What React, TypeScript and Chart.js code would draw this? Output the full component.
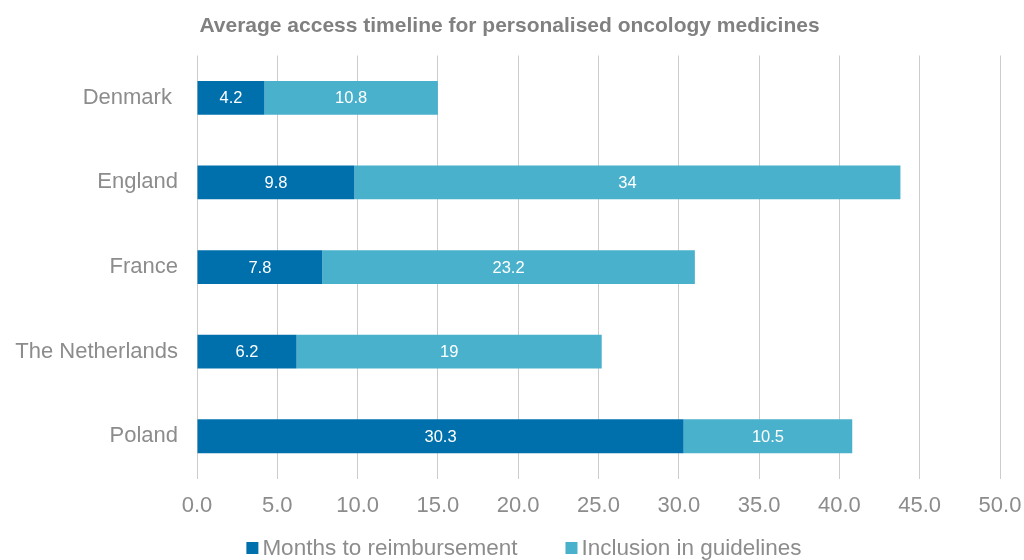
import React, { useEffect, useRef } from "react";
import { Chart, registerables } from "chart.js";

Chart.register(...registerables);

const categories = ["Denmark ", "England", "France", "The Netherlands", "Poland"];
const monthsToReimbursement = [4.2, 9.8, 7.8, 6.2, 30.3];
const inclusionInGuidelines = [10.8, 34, 23.2, 19, 10.5];
const seriesNames = ["Months to reimbursement", "Inclusion in guidelines"];
const seriesColors = ["#0070AC", "#4AB1CC"];
const titleText = "Average access timeline for personalised oncology medicines";

const FONT = "'Liberation Sans', Arial, sans-serif";

const barLabels = {
  id: "barLabels",
  afterDatasetsDraw(chart: any) {
    const ctx = chart.ctx;
    ctx.save();
    ctx.fillStyle = "#ffffff";
    ctx.font = `16.5px ${FONT}`;
    ctx.textAlign = "center";
    ctx.textBaseline = "middle";
    chart.data.datasets.forEach((ds: any, di: number) => {
      const meta = chart.getDatasetMeta(di);
      meta.data.forEach((el: any, i: number) => {
        const v = ds.data[i];
        const cx = (el.x + el.base) / 2;
        ctx.fillText(String(v), cx, el.y + 1);
      });
    });
    ctx.restore();
  },
};

const titleAndLegend = {
  id: "titleAndLegend",
  afterDraw(chart: any) {
    const ctx = chart.ctx;
    ctx.save();
    // title
    ctx.font = `bold 21px ${FONT}`;
    ctx.fillStyle = "#808080";
    ctx.textAlign = "center";
    ctx.textBaseline = "middle";
    ctx.fillText(titleText, 509.5, 26);
    // legend
    ctx.font = `22.5px ${FONT}`;
    ctx.textAlign = "left";
    const box = 12;
    const gapBoxText = 4;
    const gapItems = 48;
    const items = chart.data.datasets.map((ds: any) => ({
      label: ds.label,
      color: ds.backgroundColor,
      w: ctx.measureText(ds.label).width,
    }));
    const total =
      items.reduce((a: number, it: any) => a + box + gapBoxText + it.w, 0) +
      gapItems * (items.length - 1);
    let x = (chart.width - total) / 2 + 12;
    const y = 549;
    items.forEach((it: any) => {
      ctx.fillStyle = it.color;
      ctx.fillRect(x, y - box / 2 - 1, box, box);
      x += box + gapBoxText;
      ctx.fillStyle = "#8c8c8c";
      ctx.fillText(it.label, x, y);
      x += it.w + gapItems;
    });
    ctx.restore();
  },
};

export default function App() {
  const ref = useRef<HTMLCanvasElement>(null);
  useEffect(() => {
    document.body.style.margin = "0";
    const chart = new Chart(ref.current!, {
      type: "bar",
      data: {
        labels: categories,
        datasets: [
          {
            label: seriesNames[0],
            data: monthsToReimbursement,
            backgroundColor: seriesColors[0],
            categoryPercentage: 1,
            barPercentage: 0.4,
          },
          {
            label: seriesNames[1],
            data: inclusionInGuidelines,
            backgroundColor: seriesColors[1],
            categoryPercentage: 1,
            barPercentage: 0.4,
          },
        ],
      },
      options: {
        indexAxis: "y",
        animation: false,
        responsive: false,
        layout: { padding: { left: 0, right: 24, top: 55.5, bottom: 27 } },
        scales: {
          x: {
            stacked: true,
            min: 0,
            max: 50,
            ticks: {
              stepSize: 5,
              color: "#8c8c8c",
              font: { family: FONT, size: 22 },
              padding: 14,
              maxRotation: 0,
              autoSkip: false,
              callback: (v: any) => Number(v).toFixed(1),
            },
            grid: { color: "#cccccc", drawTicks: false, lineWidth: 1 },
            border: { display: false },
            afterFit: (s: any) => {
              s.paddingRight = 0;
              s.paddingLeft = 0;
            },
          },
          y: {
            stacked: true,
            ticks: {
              color: "#8c8c8c",
              font: { family: FONT, size: 22 },
              padding: 19,
            },
            grid: { display: false, drawTicks: false },
            border: { display: false },
            afterFit: (s: any) => {
              s.width = 197;
            },
          },
        },
        plugins: {
          title: { display: false },
          legend: { display: false },
          tooltip: { enabled: false },
        },
      },
      plugins: [barLabels, titleAndLegend],
    });
    return () => chart.destroy();
  }, []);
  return <canvas ref={ref} width={1024} height={560} style={{ display: "block" }} />;
}
